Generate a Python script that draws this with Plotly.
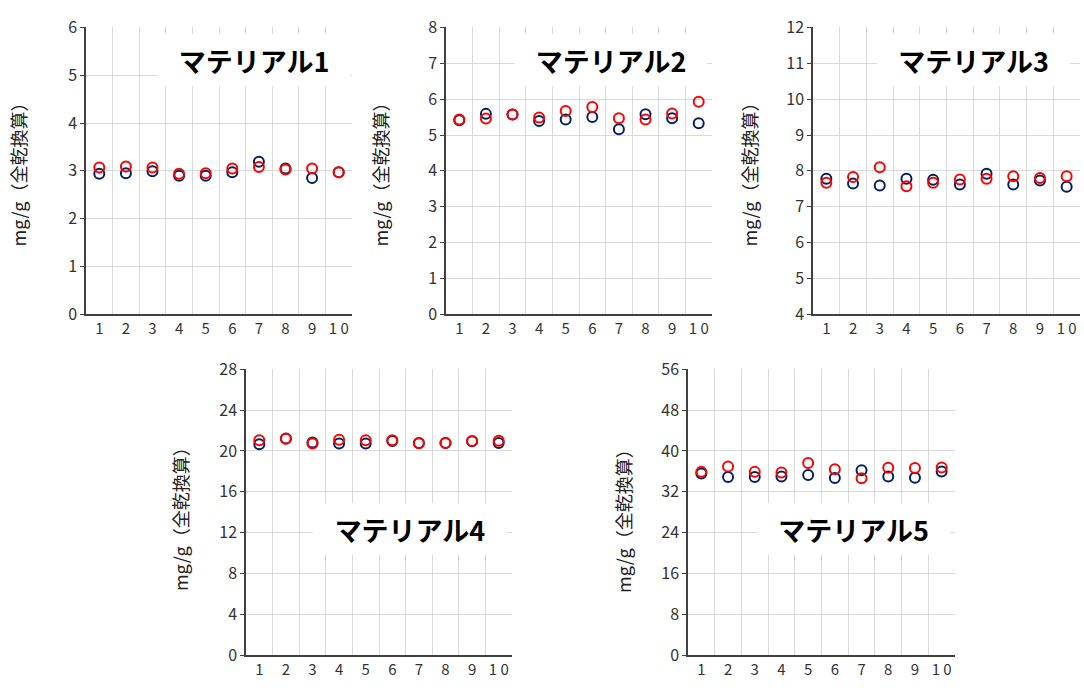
import plotly.graph_objects as go

W, H = 1084, 697

categories = [1, 2, 3, 4, 5, 6, 7, 8, 9, 10]
tick_labels = ["1", "2", "3", "4", "5", "6", "7", "8", "9", "1 0"]

titles = ["マテリアル1", "マテリアル2", "マテリアル3", "マテリアル4", "マテリアル5"]
y_title = "mg/g（全乾換算）"

m1_blue = [2.94, 2.95, 2.99, 2.90, 2.90, 2.97, 3.19, 3.05, 2.85, 2.97]
m1_red = [3.07, 3.09, 3.07, 2.94, 2.95, 3.05, 3.08, 3.03, 3.05, 2.97]

m2_blue = [5.41, 5.59, 5.57, 5.39, 5.43, 5.50, 5.16, 5.58, 5.47, 5.33]
m2_red = [5.43, 5.46, 5.57, 5.49, 5.67, 5.78, 5.47, 5.43, 5.60, 5.93]

m3_blue = [7.78, 7.65, 7.59, 7.78, 7.75, 7.62, 7.92, 7.62, 7.73, 7.56]
m3_red = [7.67, 7.83, 8.10, 7.57, 7.67, 7.76, 7.78, 7.85, 7.80, 7.85]

m4_blue = [20.66, 21.23, 20.82, 20.73, 20.73, 20.98, 20.79, 20.79, 20.95, 20.79]
m4_red = [21.04, 21.20, 20.73, 21.10, 21.04, 21.04, 20.76, 20.79, 20.98, 21.01]

m5_blue = [35.58, 34.89, 34.89, 35.01, 35.27, 34.70, 36.21, 35.01, 34.76, 35.96]
m5_red = [35.90, 36.97, 35.90, 35.77, 37.66, 36.40, 34.64, 36.72, 36.65, 36.78]

y_ranges = [(0, 6, 1), (0, 8, 1), (4, 12, 1), (0, 28, 4), (0, 56, 8)]

blues = [m1_blue, m2_blue, m3_blue, m4_blue, m5_blue]
reds = [m1_red, m2_red, m3_red, m4_red, m5_red]

# panel pixel boxes: left, right, top, bottom
boxes = [(86, 352, 15, 312), (446, 712, 15, 312), (813, 1080, 15, 312),
         (246, 512, 369, 665), (688, 955, 369, 665)]
ytitle_pos = [(18, 163), (380, 163), (749, 163), (180, 520), (623, 522)]
# title label boxes (x0, x1, y0, y1) in px
title_boxes = [(158, 350, 23, 75), (515, 707, 23, 75), (877, 1070, 23, 75),
               (313, 507, 508, 560), (757, 950, 508, 560)]

BLUE = "#002060"
RED = "#FF0000"
GRID = "#D9D9D9"
AXIS = "#404040"
FONT = "Noto Sans CJK JP"

fig = go.Figure()

for i in range(5):
    n = i + 1
    xa = "x" if n == 1 else f"x{n}"
    ya = "y" if n == 1 else f"y{n}"
    L, R, T, B = boxes[i]
    fig.add_trace(go.Scatter(
        x=categories, y=blues[i], mode="markers", xaxis=xa, yaxis=ya,
        marker=dict(symbol="circle-open", size=10, color=BLUE, line=dict(width=2, color=BLUE)),
        showlegend=False, cliponaxis=False))
    fig.add_trace(go.Scatter(
        x=categories, y=reds[i], mode="markers", xaxis=xa, yaxis=ya,
        marker=dict(symbol="circle-open", size=10, color=RED, line=dict(width=2, color=RED)),
        showlegend=False, cliponaxis=False))

    y0, y1, dy = y_ranges[i]
    xkey = "xaxis" if n == 1 else f"xaxis{n}"
    ykey = "yaxis" if n == 1 else f"yaxis{n}"
    fig.update_layout(**{
        xkey: dict(
            domain=[L / W, R / W], anchor=ya, range=[0.5, 10.5],
            tickmode="array", tickvals=categories, ticktext=tick_labels,
            showgrid=False, zeroline=False,
            showline=True, linecolor=AXIS, linewidth=1.5,
            ticks="", tickfont=dict(family=FONT, size=15, color="#333333"),
            minor=dict(tickvals=[c + 0.5 for c in categories], showgrid=True,
                       gridcolor=GRID, gridwidth=1, ticks=""),
            fixedrange=True,
        ),
        ykey: dict(
            domain=[1 - B / H, 1 - T / H], anchor=xa, range=[y0, y1],
            dtick=dy, tick0=y0, showgrid=True, gridcolor=GRID, gridwidth=1,
            zeroline=False, showline=True, linecolor=AXIS, linewidth=1.5,
            ticks="outside", ticklen=4, tickcolor=AXIS,
            tickfont=dict(family=FONT, size=16, color="#333333"),
            fixedrange=True,
        ),
    })

    bx0, bx1, by0, by1 = title_boxes[i]
    fig.add_annotation(text=f"<b>{titles[i]}</b>", xref="paper", yref="paper",
                       x=(bx0 + bx1) / 2 / W, y=1 - (by0 + by1) / 2 / H,
                       width=bx1 - bx0, height=by1 - by0, bgcolor="white",
                       borderpad=0, borderwidth=0,
                       showarrow=False, font=dict(family=FONT, size=27, color="black"),
                       xanchor="center", yanchor="middle", align="center", valign="middle")

    px, py = ytitle_pos[i]
    fig.add_annotation(text=y_title, xref="paper", yref="paper", x=px / W, y=1 - py / H,
                       showarrow=False, textangle=-90,
                       font=dict(family=FONT, size=18, color="#222222"),
                       xanchor="center", yanchor="middle")

fig.update_layout(width=W, height=H, margin=dict(l=0, r=0, t=0, b=0),
                  paper_bgcolor="white", plot_bgcolor="white")

fig.write_html("out.html", config={"displayModeBar": False},
               post_script="document.body.style.margin='0';document.body.style.overflow='hidden';")
